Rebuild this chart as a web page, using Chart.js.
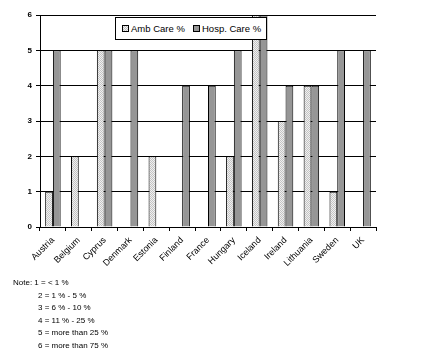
<!DOCTYPE html>
<html>
    <head>
        <meta charset="UTF-8">
        <title>Amb / Hosp care</title>
        <script src="https://cdn.jsdelivr.net/npm/chart.js@4.4.0/dist/chart.umd.min.js"></script>
        <style>
            body { margin: 0; background: #fff; font-family: "Liberation Sans", Arial, sans-serif; }
            #wrap { position: relative; width: 437px; height: 352px; }
            #legend { position: absolute; left: 115px; top: 17px; width: 152px; height: 23px; box-sizing: border-box; border: 1px solid #000; background: #fff; font-size: 9.5px; }
            .item { position: absolute; top: 5px; line-height: 11px; white-space: nowrap; }
            .sw { display: inline-block; width: 5px; height: 5px; border: 1px solid #000; margin-right: 2px; vertical-align: 0px; }
            #notes { position: absolute; left: 13px; top: 277px; font-size: 8px; line-height: 12.6px; }
            #notes div.ind { padding-left: 25px; }
        </style>
        <script type="text/javascript">
            var countries = ['Austria', 'Belgium', 'Cyprus', 'Denmark', 'Estonia', 'Finland', 'France', 'Hungary', 'Iceland', 'Ireland', 'Lithuania', 'Sweden', 'UK'];
            var ambCare = [1, 2, 5, 0, 2, 0, 0, 2, 6, 3, 4, 1, 0];
            var hospCare = [5, 0, 5, 5, 0, 4, 4, 5, 6, 4, 4, 5, 5];
            var yTicks = [0, 1, 2, 3, 4, 5, 6];

            function dotPattern() {
                var c = document.createElement('canvas');
                c.width = 2; c.height = 2;
                var g = c.getContext('2d');
                g.fillStyle = '#f0f0f0';
                g.fillRect(0, 0, 2, 2);
                g.fillStyle = '#c4c4c4';
                g.fillRect(0, 0, 1, 1);
                g.fillRect(1, 1, 1, 1);
                return g.createPattern(c, 'repeat');
            }

            window.onload = function () {
                var ctx = document.getElementById('careCanvas').getContext('2d');
                document.getElementById('ambSw').style.background = 'repeating-conic-gradient(#c4c4c4 0 25%, #f0f0f0 0 50%) 0 0 / 2px 2px';
                window.careChart = new Chart(ctx, {
                    type: 'bar',
                    data: {
                        labels: countries,
                        datasets: [{
                                label: 'Amb Care %',
                                data: ambCare,
                                backgroundColor: dotPattern(),
                                borderColor: '#000',
                                borderWidth: 1
                            }, {
                                label: 'Hosp. Care %',
                                data: hospCare,
                                backgroundColor: '#969696',
                                borderColor: '#000',
                                borderWidth: 1
                            }]
                    },
                    options: {
                        responsive: false,
                        animation: false,
                        datasets: { bar: { categoryPercentage: 0.6, barPercentage: 1 } },
                        layout: { padding: { left: 0, top: 15, right: 61, bottom: 0 } },
                        plugins: { legend: { display: false }, tooltip: { enabled: false } },
                        scales: {
                            x: {
                                grid: { drawOnChartArea: false, color: '#000', tickLength: 4, offset: true },
                                border: { color: '#000' },
                                ticks: { color: '#000', font: { family: 'Liberation Sans', size: 9 }, minRotation: 45, maxRotation: 45, padding: 4 },
                                afterFit: function (s) { s.height = 125; }
                            },
                            y: {
                                min: 0, max: 6,
                                afterBuildTicks: function (s) { s.ticks = yTicks.map(function (v) { return { value: v }; }); },
                                grid: { color: '#000', tickLength: 4 },
                                border: { color: '#000' },
                                ticks: { color: '#000', font: { family: 'Liberation Sans', size: 8, weight: 'bold' }, padding: 4 },
                                afterFit: function (s) { s.width = 40; }
                            }
                        }
                    }
                });
            };
        </script>
    </head>
    <body>
        <div id="wrap">
            <canvas id="careCanvas" width="437" height="352"></canvas>
            <div id="legend">
                <span class="item" style="left: 6px;"><span class="sw" id="ambSw"></span>Amb Care %</span>
                <span class="item" style="left: 77px;"><span class="sw" style="background: #969696;"></span>Hosp. Care %</span>
            </div>
            <div id="notes">
                <div>Note: 1 = &lt; 1 %</div>
                <div class="ind">2 = 1 % - 5 %</div>
                <div class="ind">3 = 6 % - 10 %</div>
                <div class="ind">4 = 11 % - 25 %</div>
                <div class="ind">5 = more than 25 %</div>
                <div class="ind">6 = more than 75 %</div>
            </div>
        </div>
    </body>
</html>
